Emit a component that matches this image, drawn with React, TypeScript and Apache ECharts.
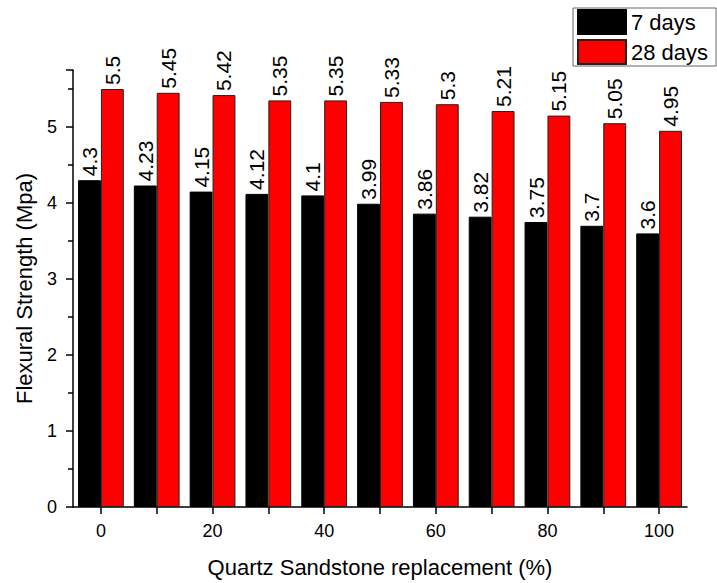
import React, { useEffect, useRef } from "react";
import * as echarts from "echarts";

const categories = ["0", "10", "20", "30", "40", "50", "60", "70", "80", "90", "100"];
const days7 = [4.3, 4.23, 4.15, 4.12, 4.1, 3.99, 3.86, 3.82, 3.75, 3.7, 3.6];
const days28 = [5.5, 5.45, 5.42, 5.35, 5.35, 5.33, 5.3, 5.21, 5.15, 5.05, 4.95];
const seriesNames = ["7 days", "28 days"];

const FONT = "Liberation Sans, Arial, sans-serif";

export default function App() {
  const ref = useRef<HTMLDivElement>(null);
  useEffect(() => {
    if (!ref.current) return;
    const chart = echarts.init(ref.current, null, { renderer: "svg" });
    const label = {
      show: true,
      position: "top",
      rotate: 90,
      align: "left",
      verticalAlign: "middle",
      distance: 4,
      fontSize: 21,
      color: "#000",
      fontFamily: FONT,
    };
    chart.setOption({
      animation: false,
      backgroundColor: "#fff",
      textStyle: { fontFamily: FONT },
      legend: {
        orient: "vertical",
        left: 573,
        top: 8,
        itemWidth: 48,
        itemHeight: 24,
        itemGap: 4,
        padding: [1, 8, 1, 4],
        borderColor: "#666",
        borderWidth: 1,
        borderRadius: 0,
        textStyle: { fontSize: 22, color: "#000", fontFamily: FONT, padding: [0, 0, 0, 0] },
        data: [
          { name: seriesNames[0], icon: "rect" },
          { name: seriesNames[1], icon: "rect" },
        ],
      },
      grid: { left: 73, right: 30, top: 70, bottom: 75, containLabel: false },
      xAxis: {
        type: "category",
        data: categories,
        boundaryGap: true,
        name: "Quartz Sandstone replacement (%)",
        nameLocation: "middle",
        nameGap: 49,
        nameTextStyle: { fontSize: 22, color: "#000", fontFamily: FONT },
        axisLine: { show: true, lineStyle: { color: "#000", width: 1.5 } },
        axisTick: { show: true, alignWithLabel: true, interval: 0, length: 7, lineStyle: { color: "#000", width: 1.5 } },
        axisLabel: { interval: 1, fontSize: 18, color: "#000", margin: 15, fontFamily: FONT },
        splitLine: { show: false },
      },
      yAxis: {
        type: "value",
        min: 0,
        max: 5.75,
        interval: 1,
        name: "Flexural Strength (Mpa)",
        nameLocation: "middle",
        nameGap: 38,
        nameTextStyle: { fontSize: 22, color: "#000", fontFamily: FONT },
        axisLine: { show: true, lineStyle: { color: "#000", width: 1.5 } },
        axisTick: { show: true, length: 7, lineStyle: { color: "#000", width: 1.5 } },
        minorTick: { show: true, splitNumber: 2, length: 5, lineStyle: { color: "#000", width: 1.5 } },
        axisLabel: {
          fontSize: 18,
          color: "#000",
          margin: 16,
          fontFamily: FONT,
          formatter: (v: number) => (Number.isInteger(v) ? String(v) : ""),
        },
        splitLine: { show: false },
      },
      series: [
        {
          name: seriesNames[0],
          type: "bar",
          data: days7,
          barGap: "0%",
          barCategoryGap: "18%",
          itemStyle: { color: "#000000", borderColor: "#000", borderWidth: 1 },
          label,
        },
        {
          name: seriesNames[1],
          type: "bar",
          data: days28,
          barGap: "0%",
          barCategoryGap: "18%",
          itemStyle: { color: "#ff0000", borderColor: "#222", borderWidth: 1 },
          label,
        },
      ],
    });
    return () => chart.dispose();
  }, []);
  return (
    <div
      ref={ref}
      style={{ position: "absolute", left: 0, top: 0, width: 717, height: 583 }}
    />
  );
}
